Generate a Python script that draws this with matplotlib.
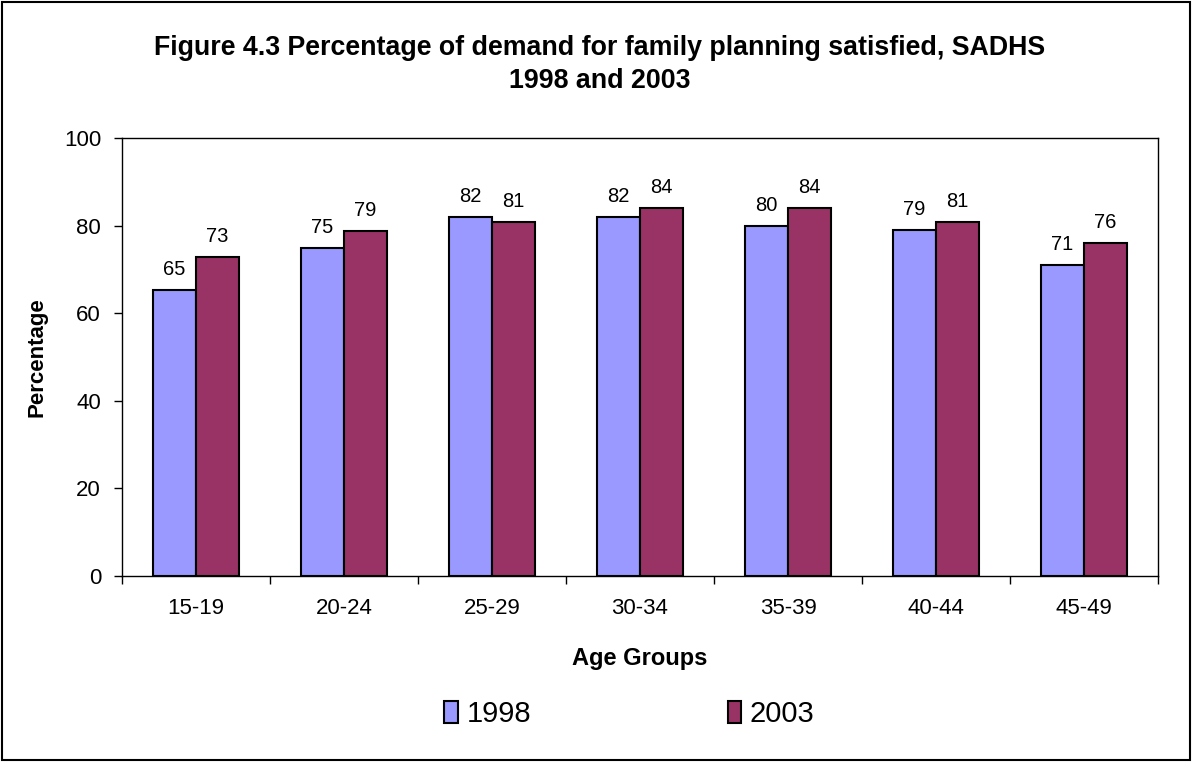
import matplotlib
matplotlib.use("Agg")
import matplotlib.pyplot as plt
import numpy as np
from matplotlib.patches import Rectangle

age_groups = ["15-19", "20-24", "25-29", "30-34", "35-39", "40-44", "45-49"]
series_names = ["1998", "2003"]
values_1998 = [65.3, 74.9, 82.0, 82.0, 79.8, 79.0, 71.0]
values_2003 = [72.8, 78.7, 80.8, 84.0, 84.0, 80.8, 76.1]
yticks = [0, 20, 40, 60, 80, 100]

plt.rcParams['font.family'] = ['Liberation Sans', 'DejaVu Sans']

fig = plt.figure(figsize=(11.92, 7.62), dpi=100)
fig.patches.append(Rectangle((0.0015, 0.002), 0.997, 0.996, transform=fig.transFigure,
                             fill=False, edgecolor='black', linewidth=1.5))
ax = fig.add_axes([0.1023, 0.2441, 0.8692, 0.5748])

x = np.arange(len(age_groups))
w = 0.29
b1 = ax.bar(x - w/2, values_1998, w, color='#9999FF', edgecolor='black', linewidth=1.5,
            label=series_names[0])
b2 = ax.bar(x + w/2, values_2003, w, color='#993366', edgecolor='black', linewidth=1.5,
            label=series_names[1])

for bars, vals in ((b1, values_1998), (b2, values_2003)):
    for r, v in zip(bars, vals):
        ax.annotate(f"{round(v)}", (r.get_x() + r.get_width()/2, v), xytext=(0, 8),
                    textcoords='offset points', ha='center', va='bottom', fontsize=14.5)

ax.set_xlim(-0.5, len(age_groups) - 0.5)
ax.set_ylim(0, 100)
ax.set_yticks(yticks)
ax.tick_params(axis='y', labelsize=16, length=6, width=1, direction='out', pad=9)
ax.set_xticks(x)
ax.set_xticklabels(age_groups, fontsize=16)
ax.tick_params(axis='x', length=0, pad=16)
ax.set_xticks(np.arange(len(age_groups) + 1) - 0.5, minor=True)
ax.tick_params(axis='x', which='minor', length=6, width=1, direction='out')
for s in ax.spines.values():
    s.set_linewidth(1)
    s.set_color('black')

ax.set_xlabel("Age Groups", fontsize=17, fontweight='bold', labelpad=20)
ax.set_ylabel("Percentage", fontsize=16, fontweight='bold', labelpad=12)

fig.text(0.503, 0.916, "Figure 4.3 Percentage of demand for family planning satisfied, SADHS\n1998 and 2003",
         ha='center', va='center', fontsize=19.3, fontweight='bold', linespacing=1.35)

leg = fig.legend(handles=[b1, b2], labels=series_names, loc='center', bbox_to_anchor=(0.528, 0.063),
                 ncol=2, frameon=False, fontsize=21, handlelength=0.45, handleheight=0.75,
                 handletextpad=0.3, columnspacing=6.75)

fig.savefig("out.png", dpi=100)
